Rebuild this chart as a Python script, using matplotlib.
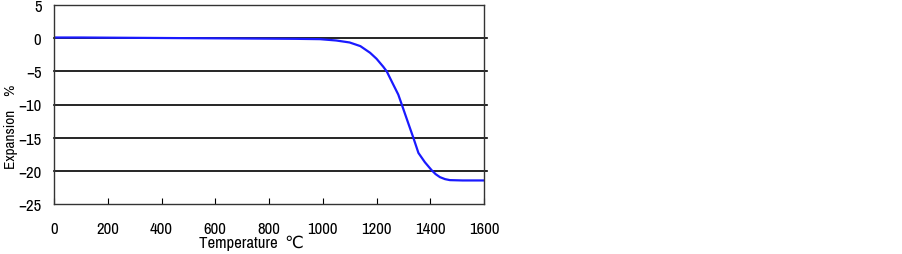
import matplotlib
matplotlib.use("Agg")
import matplotlib.pyplot as plt

# temperature (deg C) vs expansion (%)
temps = [0, 100, 300, 500, 700, 900, 990, 1050, 1100, 1140, 1176, 1200,
         1225, 1238, 1260, 1281, 1294, 1318, 1337, 1356, 1380, 1405, 1420,
         1436, 1455, 1473, 1520, 1600]
expansion = [0.1, 0.1, 0.05, 0.0, -0.05, -0.1, -0.15, -0.35, -0.65, -1.2,
             -2.2, -3.1, -4.3, -5.0, -6.8, -8.5, -10.0, -12.8, -15.0, -17.3,
             -18.7, -19.9, -20.5, -20.95, -21.25, -21.4, -21.45, -21.45]

x_ticks = [0, 200, 400, 600, 800, 1000, 1200, 1400, 1600]
y_ticks = [5, 0, -5, -10, -15, -20, -25]
grid_levels = [0, -5, -10, -15, -20]

plt.rcParams['font.family'] = ['Archivo Narrow', 'DejaVu Sans']

fig = plt.figure(figsize=(9.03, 2.55), dpi=100)
ax = fig.add_axes([54 / 903, 1 - 205 / 255, 430 / 903, 199 / 255])

for g in grid_levels:
    ax.axhline(g, xmin=0, xmax=1.006, color='black', lw=1.2, clip_on=False, zorder=1)

ax.plot(temps, expansion, color='#1a1aff', lw=1.6, zorder=2)

ax.set_xlim(0, 1600)
ax.set_ylim(-25, 5)
ax.set_xticks(x_ticks)
ax.set_yticks(y_ticks)
ax.set_yticklabels(['5', '0', '\u22125', '\u221210', '\u221215', '\u221220', '\u221225'])
ax.tick_params(axis='x', direction='in', length=4, pad=12, labelsize=12)
ax.tick_params(axis='y', length=0, pad=9, labelsize=12)
for s in ax.spines.values():
    s.set_color('#333333')
    s.set_linewidth(1.0)

ax.set_xlabel('Temperature  \u2103', fontsize=12)
ax.xaxis.set_label_coords(0.459, -0.19)
ax.xaxis.label.set_va('center')
ax.set_ylabel('Expansion    %', fontsize=11)
ax.yaxis.set_label_coords(-0.1, 0.394)
ax.yaxis.label.set_va('center')

fig.savefig('out.png', dpi=100)
